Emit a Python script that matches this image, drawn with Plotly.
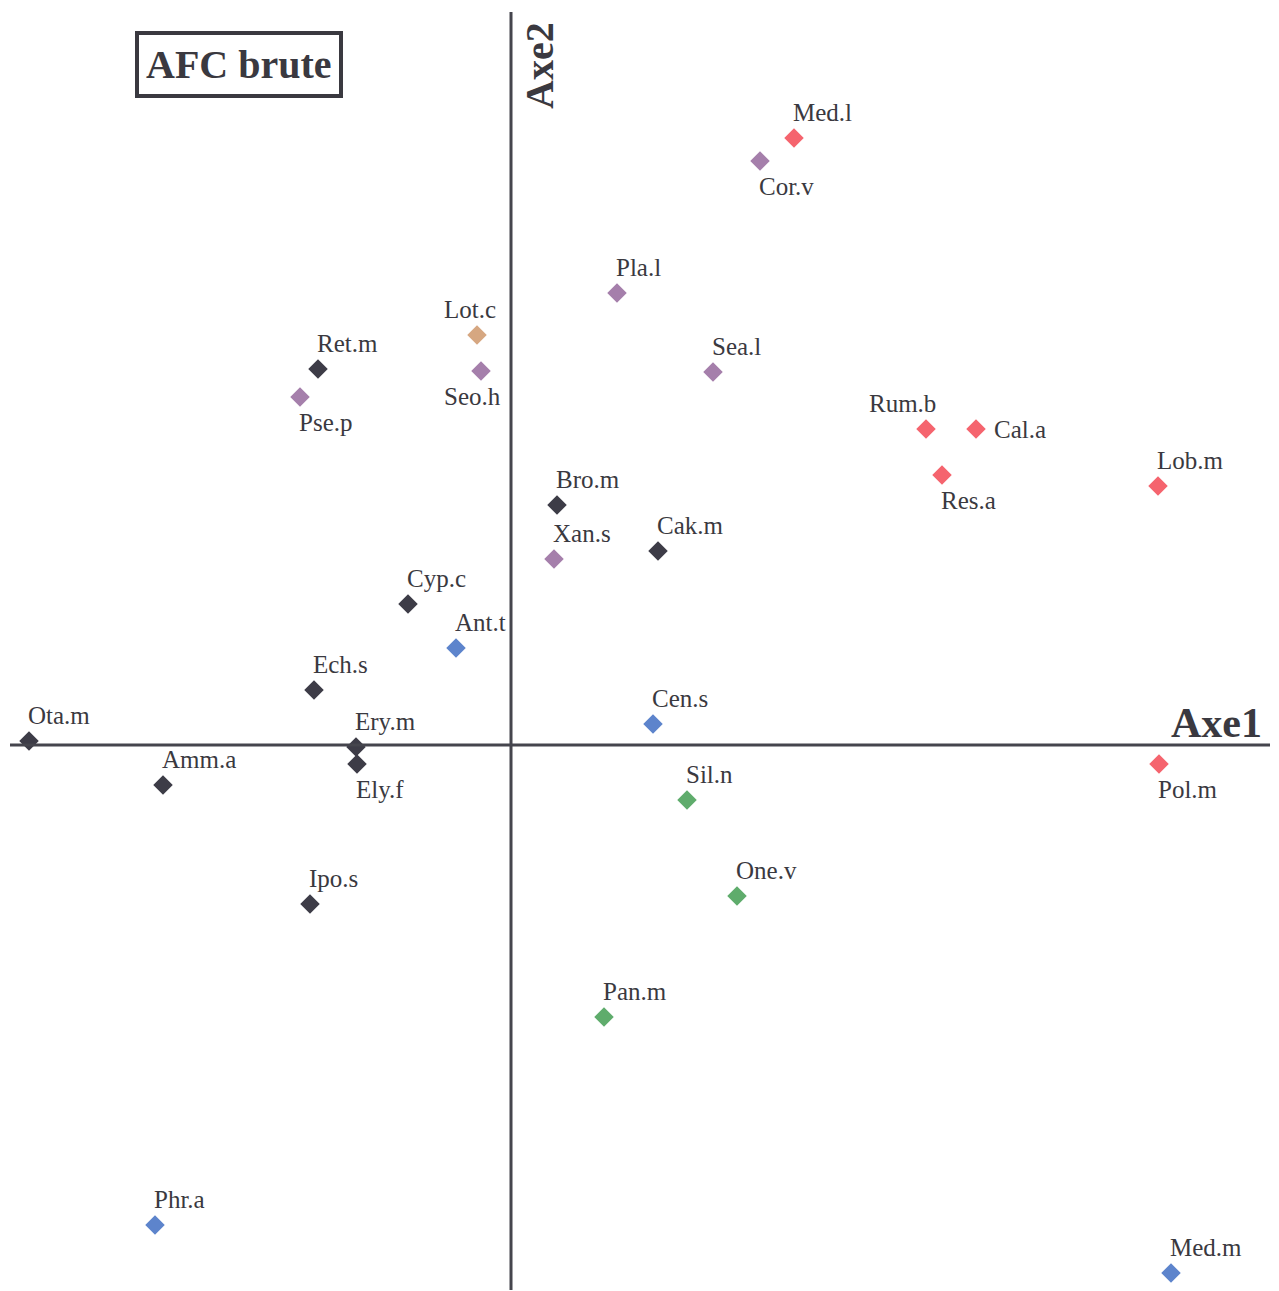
import plotly.graph_objects as go

# Species scores on the two factorial axes
names = ["Med.l", "Cor.v", "Pla.l", "Lot.c", "Ret.m", "Seo.h", "Pse.p", "Sea.l",
         "Rum.b", "Cal.a", "Res.a", "Lob.m", "Bro.m", "Xan.s", "Cak.m", "Cyp.c",
         "Ant.t", "Ech.s", "Cen.s", "Ota.m", "Ery.m", "Ely.f", "Amm.a", "Pol.m",
         "Sil.n", "One.v", "Ipo.s", "Pan.m", "Phr.a", "Med.m"]
axe1 = [2.83, 2.49, 1.06, -0.34, -1.93, -0.30, -2.11, 2.02,
        4.15, 4.65, 4.31, 6.47, 0.46, 0.43, 1.47, -1.03,
        -0.55, -1.97, 1.42, -4.82, -1.55, -1.54, -3.48, 6.48,
        1.76, 2.26, -2.01, 0.93, -3.56, 6.60]
axe2 = [6.06, 5.83, 4.51, 4.09, 3.75, 3.73, 3.47, 3.72,
        3.15, 3.15, 2.69, 2.58, 2.39, 1.85, 1.93, 1.40,
        0.96, 0.54, 0.20, 0.03, -0.03, -0.20, -0.41, -0.20,
        -0.56, -1.52, -1.60, -2.73, -4.81, -5.29]
groups = ["red", "purple", "purple", "tan", "dark", "purple", "purple", "purple",
          "red", "red", "red", "red", "dark", "purple", "dark", "dark",
          "blue", "dark", "blue", "dark", "dark", "dark", "dark", "red",
          "green", "green", "dark", "green", "blue", "blue"]
label_pos = ["above", "below", "above", "above_c", "above", "below_c", "below", "above",
             "above_l", "right", "below", "above", "above", "above", "above", "above",
             "above", "above", "above", "above", "above", "below", "above", "below",
             "above", "above", "above", "above", "above", "above"]

palette = {"red": "#f5646e", "purple": "#a57fab", "tan": "#d6a781",
           "dark": "#3d3c47", "blue": "#5d84cc", "green": "#5fac6c"}

TXT = "#3a3940"
SERIF = "Liberation Serif"

fig = go.Figure()
fig.add_trace(go.Scatter(
    x=axe1, y=axe2, mode="markers", text=names,
    marker=dict(symbol="diamond", size=15, color=[palette[g] for g in groups],
                line=dict(width=0)),
    cliponaxis=False, hoverinfo="text"))

placement = {
    "above":   dict(xanchor="left", yanchor="bottom", xshift=-3, yshift=10),
    "above_c": dict(xanchor="center", yanchor="bottom", xshift=-7, yshift=10),
    "above_l": dict(xanchor="center", yanchor="bottom", xshift=-24, yshift=10),
    "below":   dict(xanchor="left", yanchor="top", xshift=-3, yshift=-10),
    "below_c": dict(xanchor="center", yanchor="top", xshift=-9, yshift=-10),
    "right":   dict(xanchor="left", yanchor="middle", xshift=16, yshift=0),
}
for n, x, y, p in zip(names, axe1, axe2, label_pos):
    fig.add_annotation(x=x, y=y, xref="x", yref="y", text=n, showarrow=False,
                       font=dict(family=SERIF, size=25, color=TXT), **placement[p])

# ranges: 100 px per unit, compensating the 8px page margin
XR = [-5.03, 7.60]
YR = [-5.47, 7.36]

# axis lines
fig.add_shape(type="line", x0=0, x1=0, y0=-5.46, y1=7.32, xref="x", yref="y",
              line=dict(color="#45454d", width=3))
fig.add_shape(type="line", x0=-5.01, x1=7.59, y0=-0.01, y1=-0.01, xref="x", yref="y",
              line=dict(color="#45454d", width=3))

fig.add_annotation(x=7.53, y=-0.01, xref="x", yref="y", text="<b>Axe1</b>",
                   showarrow=False, xanchor="right", yanchor="bottom", yshift=-3,
                   font=dict(family=SERIF, size=42, color=TXT))
fig.add_annotation(x=0, y=7.24, xref="x", yref="y", text="<b>Axe2</b>",
                   showarrow=False, textangle=-90, xanchor="left", yanchor="top",
                   xshift=4,
                   font=dict(family=SERIF, size=40, color=TXT))
fig.add_annotation(x=-2.72, y=6.795, xref="x", yref="y", text="<b>AFC brute</b>",
                   showarrow=False, xanchor="center", yanchor="middle",
                   font=dict(family=SERIF, size=40, color=TXT),
                   bordercolor=TXT, borderwidth=4, borderpad=7,
                   bgcolor="white")

fig.update_xaxes(range=XR, visible=False, fixedrange=True)
fig.update_yaxes(range=YR, visible=False, fixedrange=True)
fig.update_layout(width=1263, height=1283, margin=dict(l=0, r=0, t=0, b=0),
                  paper_bgcolor="white", plot_bgcolor="white", showlegend=False)

fig.write_html("out.html")
